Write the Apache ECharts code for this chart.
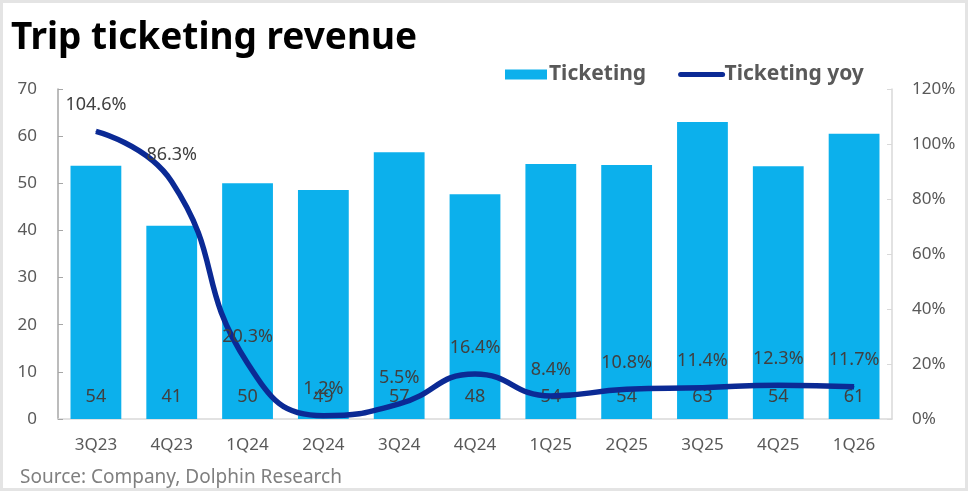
<!DOCTYPE html>
<html>
<head>
<meta charset="utf-8">
<script src="https://cdn.jsdelivr.net/npm/echarts@6/dist/echarts.min.js"></script>
<style>
html, body { margin: 0; padding: 0; background: #fff; }
#main { width: 968px; height: 491px; box-sizing: border-box; border: 3px solid #e4e4e4; }
</style>
</head>
<body>
<div id="main"></div>
<script>
// quarters
var quarters = ['3Q23', '4Q23', '1Q24', '2Q24', '3Q24', '4Q24', '1Q25', '2Q25', '3Q25', '4Q25', '1Q26'];
// ticketing revenue (bar heights) and the printed labels
var ticketing = [53.7, 41, 50, 48.6, 56.6, 47.7, 54.1, 53.9, 63, 53.6, 60.5];
var ticketingLabels = ['54', '41', '50', '49', '57', '48', '54', '54', '63', '54', '61'];
// yoy growth, %
var ticketingYoy = [104.6, 86.3, 20.3, 1.2, 5.5, 16.4, 8.4, 10.8, 11.4, 12.3, 11.7];

var font = 'Noto Sans';
var textGray = '#595959';

var chart = echarts.init(document.getElementById('main'));

var option = {
    animation: false,
    textStyle: { fontFamily: font },
    title: [
        {
            text: 'Trip ticketing revenue',
            left: 3,
            top: 12,
            textStyle: { fontSize: 37, fontWeight: 'bold', color: '#000', fontFamily: font }
        },
        {
            text: 'Source: Company, Dolphin Research',
            left: 12,
            top: 460,
            textStyle: { fontSize: 19, fontWeight: 'normal', color: '#7f7f7f', fontFamily: font }
        }
    ],
    legend: {
        left: 497,
        top: 56,
        itemGap: 32,
        itemWidth: 42,
        itemHeight: 10,
        textStyle: { fontSize: 21, fontWeight: 'bold', color: textGray, fontFamily: font, padding: [0, 0, 0, -3] },
        data: [
            { name: 'Ticketing', icon: 'rect' },
            {
                name: 'Ticketing yoy',
                itemStyle: { color: 'transparent', borderWidth: 0 },
                lineStyle: { width: 5, cap: 'round' }
            }
        ]
    },
    grid: {
        left: 55,
        right: 73,
        top: 86,
        bottom: 69
    },
    xAxis: {
        type: 'category',
        data: quarters,
        axisLine: { lineStyle: { color: '#d9d9d9', width: 1.5 } },
        axisTick: { show: false },
        axisLabel: { fontSize: 17, color: textGray, margin: 18 }
    },
    yAxis: [
        {
            type: 'value',
            min: 0,
            max: 70,
            interval: 10,
            splitLine: { show: false },
            axisLine: { show: true, lineStyle: { color: '#a6a6a6', width: 1.5 } },
            axisTick: { show: true, inside: true, length: 5, lineStyle: { color: '#a6a6a6' } },
            axisLabel: { fontSize: 17, color: textGray, margin: 21 }
        },
        {
            type: 'value',
            min: 0,
            max: 120,
            interval: 20,
            splitLine: { show: false },
            axisLine: { show: true, lineStyle: { color: '#d9d9d9', width: 1.5 } },
            axisTick: { show: true, inside: true, length: 5, lineStyle: { color: '#d9d9d9' } },
            axisLabel: { fontSize: 17, color: textGray, margin: 20, formatter: '{value}%' }
        }
    ],
    series: [
        {
            name: 'Ticketing',
            type: 'bar',
            data: ticketing,
            barWidth: '67%',
            itemStyle: { color: '#0cb0ec' },
            label: {
                show: true,
                position: 'insideBottom',
                distance: 13,
                fontSize: 18,
                color: '#404040',
                formatter: function (p) { return ticketingLabels[p.dataIndex]; }
            }
        },
        {
            name: 'Ticketing yoy',
            type: 'line',
            yAxisIndex: 1,
            data: ticketingYoy,
            smooth: 0.5,
            symbol: 'circle',
            symbolSize: 1,
            showSymbol: true,
            lineStyle: { color: '#0b2a95', width: 5.5 },
            itemStyle: { color: '#0b2a95' },
            label: {
                show: true,
                position: 'top',
                distance: 17,
                fontSize: 18,
                color: '#404040',
                formatter: function (p) { return p.value.toFixed(1) + '%'; }
            },
            z: 3
        }
    ]
};

chart.setOption(option);
</script>
</body>
</html>
